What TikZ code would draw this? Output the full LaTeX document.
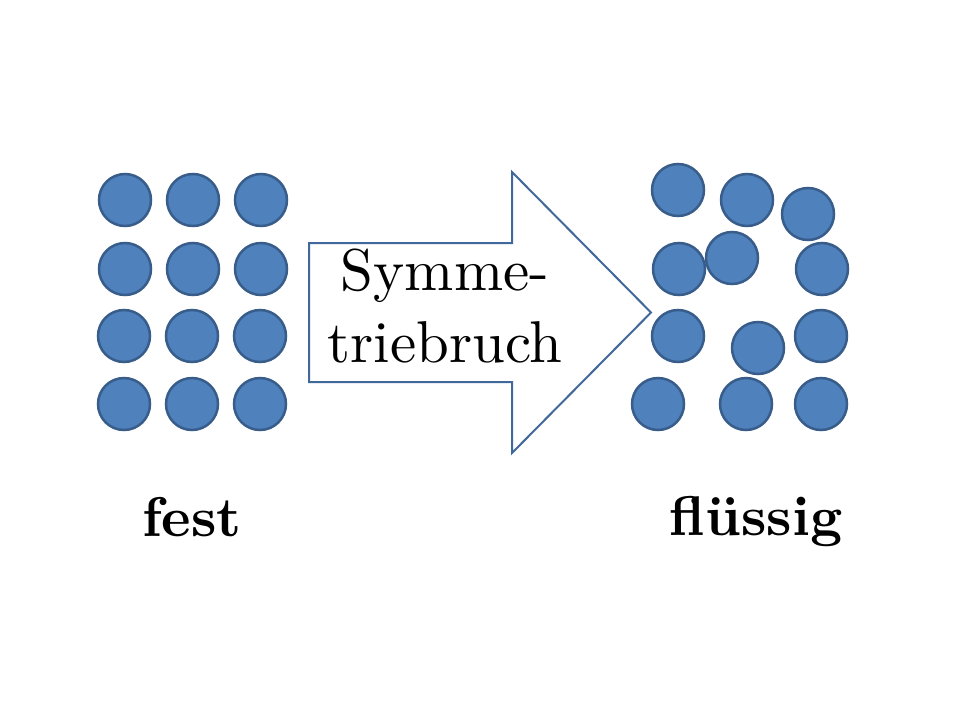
\documentclass[tikz,border=0pt]{standalone}
\usepackage{fontspec}
\newfontfamily\lmtenrm{lmroman10-regular}[Extension=.otf]
\newfontfamily\lmtenbf{lmroman10-bold}[Extension=.otf]
\definecolor{ballfill}{HTML}{4F81BD}
\definecolor{balledge}{HTML}{385D8A}
\definecolor{arrowedge}{HTML}{41689A}
\tikzset{
  ball/.style={circle, draw=balledge, fill=ballfill, line width=2.5pt, minimum size=52pt, inner sep=0pt},
  bigarrow/.style={draw=arrowedge, line width=2pt, fill=white, line join=miter},
  arrowtext/.style={align=center, inner sep=0pt, font=\lmtenrm\fontsize{59}{71.5}\selectfont},
  statelabel/.style={anchor=base, inner sep=0pt, font=\lmtenbf\fontsize{56}{60}\selectfont}
}
\begin{document}
\begin{tikzpicture}[x=1pt, y=-1pt]
\useasboundingbox (0,0) rectangle (960,720);
% solid grid
\node[ball] (s11) at (125,200) {};
\node[ball] (s12) at (193,200) {};
\node[ball] (s13) at (261,200) {};
\node[ball] (s21) at (125,269) {};
\node[ball] (s22) at (193,269) {};
\node[ball] (s23) at (261,269) {};
\node[ball] (s31) at (124,336) {};
\node[ball] (s32) at (192,336) {};
\node[ball] (s33) at (260,336) {};
\node[ball] (s41) at (124,404) {};
\node[ball] (s42) at (192,404) {};
\node[ball] (s43) at (260,404) {};
% arrow
\draw[bigarrow] (309,243) -- (512,243) -- (512,172) -- (651,312.5) -- (512,453) -- (512,382) -- (309,382) -- cycle;
\node[arrowtext] (txt) at (445,306) {Symme-\\triebruch};
% liquid
\node[ball] (l1) at (678,190) {};
\node[ball] (l2) at (747,200) {};
\node[ball] (l3) at (808,214) {};
\node[ball] (l4) at (679,269) {};
\node[ball] (l5) at (732,258) {};
\node[ball] (l6) at (822,269) {};
\node[ball] (l7) at (678,336) {};
\node[ball] (l8) at (758,348) {};
\node[ball] (l9) at (821,336) {};
\node[ball] (l10) at (658,404) {};
\node[ball] (l11) at (746,404) {};
\node[ball] (l12) at (821,404) {};
% labels
\node[statelabel] (fest) at (192,536) {fest};
\node[statelabel] (fl) at (756,535) {flüssig};
\end{tikzpicture}
\end{document}
